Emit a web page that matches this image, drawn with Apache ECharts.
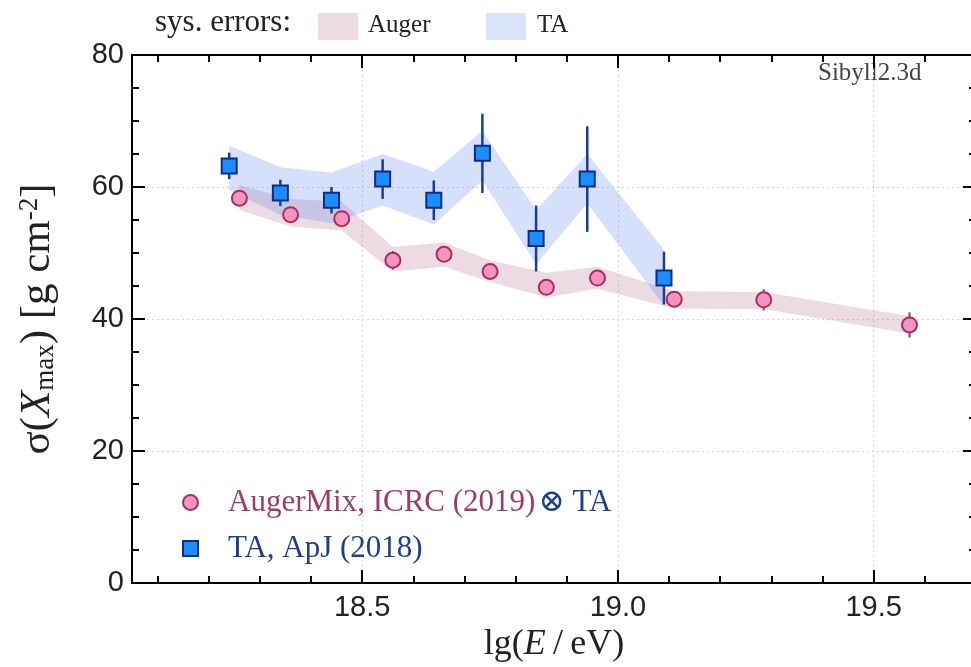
<!DOCTYPE html>
<html><head><meta charset="utf-8">
<script src="https://cdn.jsdelivr.net/npm/echarts@6/dist/echarts.min.js"></script>
<style>html,body{margin:0;padding:0;background:#fff}#c{width:971px;height:667px}</style>
</head><body><div id="c"></div>
<script>
// ---- data ----
const augerX = [18.26, 18.36, 18.46, 18.56, 18.66, 18.75, 18.86, 18.96, 19.11, 19.285, 19.57];
const augerY = [58.3, 55.8, 55.2, 48.9, 49.8, 47.2, 44.8, 46.2, 43.0, 42.9, 39.1];
const augerErr = [1.0, 1.0, 1.0, 1.4, 1.0, 1.0, 1.0, 1.0, 1.0, 1.6, 1.9];
const augerSysHi = [60.3, 58.2, 57.8, 50.9, 51.6, 48.9, 47.0, 47.9, 44.2, 44.1, 40.4];
const augerSysLo = [56.5, 54.0, 53.4, 47.2, 47.9, 45.6, 43.3, 44.6, 41.6, 41.5, 37.8];

const taX = [18.24, 18.34, 18.44, 18.54, 18.64, 18.735, 18.84, 18.94, 19.09];
const taY = [63.2, 59.1, 58.0, 61.2, 58.0, 65.1, 52.2, 61.2, 46.2];
const taErr = [2, 2, 2, 3, 3, 6, 5, 8, 4];
const taSysHi = [66.3, 63.0, 62.2, 65.0, 62.3, 68.5, 56.5, 65.0, 50.5];
const taSysLo = [59.5, 55.8, 54.5, 57.2, 54.3, 61.0, 48.3, 57.5, 42.0];

const xMajorTicks = [18.5, 19.0, 19.5];
const xMinorTicks = [18.1, 18.2, 18.3, 18.4, 18.6, 18.7, 18.8, 18.9, 19.1, 19.2, 19.3, 19.4, 19.6, 19.7];

// ---- helpers ----
const SERIF = '"Liberation Serif", "DejaVu Serif", serif';
const SANS = '"Liberation Sans", "DejaVu Sans", sans-serif';

function bandSeries(name, xs, lo, hi, color) {
  return {
    type: 'custom', name: name, silent: true, z: 1,
    data: xs.map((x, i) => [x, lo[i], hi[i]]),
    encode: { x: 0, y: [1, 2] },
    renderItem: function (params, api) {
      if (params.dataIndex !== 0) return { type: 'group', children: [] };
      const pts = [];
      for (let i = 0; i < xs.length; i++) pts.push(api.coord([xs[i], hi[i]]));
      for (let i = xs.length - 1; i >= 0; i--) pts.push(api.coord([xs[i], lo[i]]));
      return { type: 'polygon', shape: { points: pts }, style: { fill: color } };
    }
  };
}
function errSeries(xs, ys, es, color, w) {
  return {
    type: 'custom', silent: true, z: 3,
    data: xs.map((x, i) => [x, ys[i] - es[i], ys[i] + es[i]]),
    encode: { x: 0, y: [1, 2] },
    renderItem: function (params, api) {
      const a = api.coord([api.value(0), api.value(1)]);
      const b = api.coord([api.value(0), api.value(2)]);
      return { type: 'line', shape: { x1: a[0], y1: a[1], x2: b[0], y2: b[1] },
               style: { stroke: color, lineWidth: w } };
    }
  };
}
const axisLineStyle = { show: true, lineStyle: { color: '#000', width: 2 } };
function xAx(pos, ticks, len, labels, split) {
  return {
    type: 'value', min: 18.05, max: 19.7, position: pos,
    axisLine: axisLineStyle,
    axisTick: { show: true, inside: true, length: len, customValues: ticks, lineStyle: { color: '#000', width: 2 } },
    axisLabel: labels ? { show: true, customValues: ticks, formatter: v => v.toFixed(1), fontSize: 29, fontFamily: SANS, color: '#222', margin: 10 } : { show: false },
    splitLine: split ? { show: true, lineStyle: { type: [2, 3], color: '#d6d6d6', width: 1 } } : { show: false },
    name: labels ? '{n|lg(}{i|E}{n|\u2009/\u2009eV)}' : '',
    nameLocation: 'middle', nameGap: 40,
    nameTextStyle: { rich: {
      n: { fontSize: 36, fontFamily: SERIF, color: '#222' },
      i: { fontSize: 36, fontFamily: SERIF, fontStyle: 'italic', color: '#222' } } }
  };
}
function yAx(pos, labels) {
  return {
    type: 'value', min: 0, max: 80, interval: 20, position: pos,
    axisLine: axisLineStyle,
    axisTick: { show: true, inside: true, length: 13, lineStyle: { color: '#000', width: 2 } },
    minorTick: { show: true, splitNumber: 4, length: 7, lineStyle: { color: '#000', width: 2 } },
    axisLabel: labels ? { show: true, fontSize: 29, fontFamily: SANS, color: '#222', margin: 8 } : { show: false },
    splitLine: labels ? { show: true, lineStyle: { type: [2, 3], color: '#d6d6d6', width: 1 } } : { show: false },
    name: labels ? '{n|\u03c3(}{i|X}{sub|max}{n|) [g cm}{sup|-2}{n|]}' : '',
    nameLocation: 'middle', nameGap: 73, nameRotate: 90,
    nameTextStyle: { rich: {
      n: { fontSize: 43, fontFamily: SERIF, color: '#222' },
      i: { fontSize: 43, fontFamily: SERIF, fontStyle: 'italic', color: '#222' },
      sub: { fontSize: 27, fontFamily: SERIF, color: '#222', verticalAlign: 'bottom', padding: [15, 0, 0, 0] },
      sup: { fontSize: 27, fontFamily: SERIF, color: '#222', verticalAlign: 'top', padding: [0, 0, 13, 0] } } }
  };
}

const option = {
  backgroundColor: '#fff',
  animation: false,
  grid: { left: 132, top: 55, width: 844, height: 528, containLabel: false, outerBoundsMode: 'none' },
  xAxis: [
    xAx('bottom', xMajorTicks, 13, true, true),
    xAx('bottom', xMinorTicks, 7, false, false),
    xAx('top', xMajorTicks, 13, false, false),
    xAx('top', xMinorTicks, 7, false, false)
  ],
  yAxis: [yAx('left', true), yAx('right', false)],
  legend: {
    data: ['Auger', 'TA'], orient: 'vertical', left: 177, top: 482,
    itemWidth: 15, itemHeight: 15, itemGap: 15,
    formatter: function (name) {
      return name === 'Auger' ? '{a|AugerMix, ICRC (2019)} {b|\u2297 TA}' : '{b|TA, ApJ (2018)}';
    },
    textStyle: { padding: [0, 0, 0, 25], rich: {
      a: { color: '#9d3b6b', fontSize: 31, fontFamily: SERIF, lineHeight: 36 },
      b: { color: '#1f3d8f', fontSize: 31, fontFamily: SERIF, lineHeight: 36 } } }
  },
  graphic: [
    { type: 'text', left: 155, top: 7, style: { text: 'sys. errors:', font: '31px ' + SERIF, fill: '#222' } },
    { type: 'rect', shape: { x: 318, y: 13, width: 40, height: 27 }, style: { fill: '#ecdbe2' } },
    { type: 'text', left: 368, top: 13, style: { text: 'Auger', font: '25px ' + SERIF, fill: '#222' } },
    { type: 'rect', shape: { x: 486, y: 13, width: 40, height: 27 }, style: { fill: '#d9e3f9' } },
    { type: 'text', left: 537, top: 13, style: { text: 'TA', font: '25px ' + SERIF, fill: '#222' } },
    { type: 'text', left: 818, top: 61, style: { text: 'Sibyll2.3d', font: '25px ' + SERIF, fill: '#444' } }
  ],
  series: [
    bandSeries('AugerSys', augerX, augerSysLo, augerSysHi, 'rgba(170,90,125,0.22)'),
    bandSeries('TASys', taX, taSysLo, taSysHi, 'rgba(90,130,235,0.25)'),
    errSeries(augerX, augerY, augerErr, '#a3305f', 2),
    errSeries(taX, taY, taErr, '#1a3c96', 2.5),
    { type: 'scatter', name: 'Auger', symbol: 'circle', symbolSize: 15, z: 5,
      data: augerX.map((x, i) => [x, augerY[i]]),
      itemStyle: { color: '#f592c0', borderColor: '#a3305f', borderWidth: 2, opacity: 1 } },
    { type: 'scatter', name: 'TA', symbol: 'rect', symbolSize: 15, z: 5,
      data: taX.map((x, i) => [x, taY[i]]),
      itemStyle: { color: '#1b8eff', borderColor: '#0c2c86', borderWidth: 2, opacity: 1 } }
  ]
};
const chart = echarts.init(document.getElementById('c'));
chart.setOption(option);
</script></body></html>
